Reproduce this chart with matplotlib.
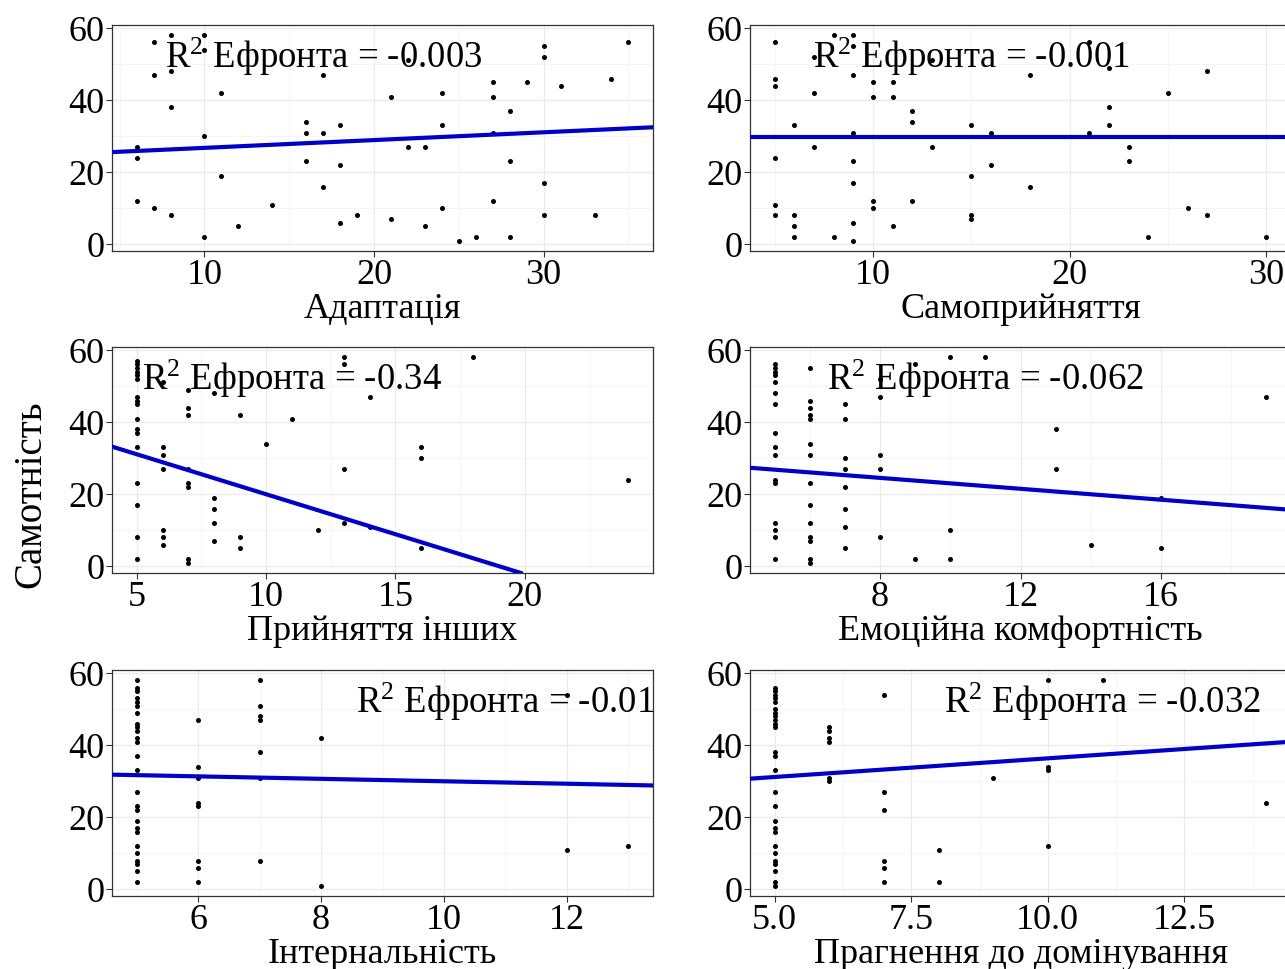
import matplotlib
matplotlib.use("Agg")
import matplotlib.pyplot as plt
from matplotlib.ticker import MultipleLocator, AutoMinorLocator

plt.rcParams['font.family'] = ['Liberation Serif', 'DejaVu Serif']
plt.rcParams['mathtext.fontset'] = 'custom'
plt.rcParams['mathtext.rm'] = 'Liberation Serif'
plt.rcParams['axes.unicode_minus'] = False

# --- data (y = Самотність) ---
adapt_x = [6, 6, 6, 7, 7, 7, 8, 8, 8, 8, 10, 10, 10, 10, 11, 11, 12, 14, 16, 16, 16,
           17, 17, 17, 18, 18, 18, 19, 21, 21, 22, 22, 23, 23, 24, 24, 24, 25, 26,
           27, 27, 27, 27, 28, 28, 28, 29, 30, 30, 30, 30, 31, 33, 34, 35]
adapt_y = [27, 24, 12, 56, 47, 10, 58, 48, 38, 8, 58, 54, 30, 2, 42, 19, 5, 11, 34, 31, 23,
           47, 31, 16, 33, 22, 6, 8, 41, 7, 27, 51, 27, 5, 42, 33, 10, 1, 2,
           45, 41, 31, 12, 37, 23, 2, 45, 55, 52, 17, 8, 44, 8, 46, 56]

self_x = [5, 5, 5, 5, 5, 5, 6, 6, 6, 6, 7, 7, 7, 8, 8, 9, 9, 9, 9, 9, 9, 9, 9,
          10, 10, 10, 10, 11, 11, 11, 12, 12, 12, 13, 13, 15, 15, 15, 15, 16, 16,
          18, 18, 21, 21, 22, 22, 22, 23, 23, 24, 25, 26, 27, 27, 30]
self_y = [56, 46, 44, 24, 11, 8, 33, 8, 5, 2, 42, 27, 52, 58, 2, 58, 55, 47, 31, 23, 17, 6, 1,
          45, 41, 12, 10, 45, 41, 5, 37, 34, 12, 27, 51, 33, 19, 8, 7, 31, 22,
          47, 16, 56, 31, 49, 38, 33, 27, 23, 2, 42, 10, 48, 8, 2]

others_x = [5, 5, 5, 5, 5, 5, 5, 5, 5, 5, 5, 5, 5, 5, 5, 5, 5,
            6, 6, 6, 6, 6, 6, 6, 7, 7, 7, 7, 7, 7, 7, 7, 8, 8, 8, 8, 8,
            9, 9, 9, 10, 11, 12, 13, 13, 13, 13, 14, 14, 16, 16, 16, 18, 24]
others_y = [57, 56, 55, 54, 53, 52, 47, 46, 45, 41, 38, 37, 33, 23, 17, 8, 2,
            51, 33, 31, 27, 10, 8, 6, 49, 44, 42, 27, 23, 22, 2, 1, 48, 19, 16, 12, 7,
            42, 8, 5, 34, 41, 10, 58, 56, 27, 12, 47, 11, 33, 30, 5, 58, 24]

comfort_x = [5, 5, 5, 5, 5, 5, 5, 5, 5, 5, 5, 5, 5, 5, 5, 5,
             6, 6, 6, 6, 6, 6, 6, 6, 6, 6, 6, 6, 6, 6,
             7, 7, 7, 7, 7, 7, 7, 7, 8, 8, 8, 8, 8,
             9, 9, 10, 10, 10, 11, 13, 13, 14, 16, 16, 19]
comfort_y = [56, 55, 54, 53, 51, 48, 45, 37, 33, 31, 24, 23, 12, 10, 8, 2,
             55, 46, 44, 42, 41, 34, 31, 23, 17, 12, 8, 7, 2, 1,
             45, 41, 30, 27, 22, 16, 11, 5, 52, 47, 31, 27, 8,
             56, 2, 58, 10, 2, 58, 38, 27, 6, 19, 5, 47]

intern_x = [5, 5, 5, 5, 5, 5, 5, 5, 5, 5, 5, 5, 5, 5, 5, 5, 5, 5, 5, 5, 5, 5, 5, 5, 5, 5,
            6, 6, 6, 6, 6, 6, 6, 6, 7, 7, 7, 7, 7, 7, 7, 8, 8, 12, 12, 13]
intern_y = [58, 56, 55, 53, 52, 51, 49, 46, 45, 44, 42, 41, 37, 33, 27, 23, 22, 19, 17, 16,
            12, 10, 8, 7, 5, 2,
            47, 34, 31, 24, 23, 8, 6, 2, 58, 51, 48, 47, 38, 31, 8, 42, 1, 54, 11, 12]

domin_x = [5, 5, 5, 5, 5, 5, 5, 5, 5, 5, 5, 5, 5, 5, 5, 5, 5, 5, 5, 5, 5, 5, 5, 5, 5, 5,
           6, 6, 6, 6, 6, 6, 7, 7, 7, 7, 7, 7, 8, 8, 9, 10, 10, 10, 10, 11, 14]
domin_y = [56, 55, 54, 53, 52, 50, 49, 48, 47, 46, 45, 38, 37, 33, 27, 23, 19, 17, 16,
           12, 10, 8, 7, 5, 2, 1,
           45, 44, 42, 41, 31, 30, 54, 27, 22, 8, 6, 2, 11, 2, 31, 58, 34, 33, 12, 58, 24]

# fitted lines (intercept, slope) and labels
fits = [(24.6, 0.216), (29.7, 0.0), (42.2, -2.22), (30.6, -0.758), (33.4, -0.341), (26.0, 1.036)]
r2_values = ['-0.003', '-0.001', '-0.34', '-0.062', '-0.01', '-0.032']
x_labels = ['Адаптація', 'Самоприйняття', 'Прийняття інших',
            'Емоційна комфортність', 'Інтернальність', 'Прагнення до домінування']
label_x = [17, 15, 11, 11, 11, 11]
x_steps = [10, 10, 5, 4, 2, 2.5]

xs = [adapt_x, self_x, others_x, comfort_x, intern_x, domin_x]
ys = [adapt_y, self_y, others_y, comfort_y, intern_y, domin_y]

fig = plt.figure(figsize=(12.85, 9.69), dpi=100)
col_left = [0.0872, 0.5837]
row_bottom = [0.741, 0.4087, 0.0753]
w, h = 0.421, 0.2332

for i in range(6):
    r, c = divmod(i, 2)
    ax = fig.add_axes([col_left[c], row_bottom[r], w, h])
    ax.scatter(xs[i], ys[i], s=13, color='black', linewidths=0, zorder=3)
    ax.margins(0.05)
    ax.autoscale_view()
    ax.set_xlim(ax.get_xlim())
    ax.set_ylim(ax.get_ylim())
    a, b = fits[i]
    ax.axline((0, a), slope=b, color='#0000C8', lw=3.0, zorder=4)

    ax.text(label_x[i], 52, r'$\mathregular{R^2}$ Ефронта = ' + r2_values[i],
            ha='center', va='center', fontsize=26.5, zorder=5)

    ax.xaxis.set_major_locator(MultipleLocator(x_steps[i]))
    ax.xaxis.set_minor_locator(AutoMinorLocator(2))
    ax.yaxis.set_major_locator(MultipleLocator(20))
    ax.yaxis.set_minor_locator(AutoMinorLocator(2))
    ax.grid(which='major', color='#EBEBEB', lw=0.9)
    ax.grid(which='minor', color='#F3F3F3', lw=0.5)
    ax.set_axisbelow(True)
    ax.tick_params(which='major', labelsize=26, length=4, width=0.8,
                   color='#333333', pad=1.5)
    ax.tick_params(which='minor', length=0)
    for sp in ax.spines.values():
        sp.set_color('#333333')
        sp.set_linewidth(0.9)
    ax.set_xlabel(x_labels[i], fontsize=26, labelpad=1)

fig.text(0.024, 0.49, 'Самотність', rotation=90, ha='center', va='center', fontsize=28)

fig.savefig('out.png', dpi=100)
